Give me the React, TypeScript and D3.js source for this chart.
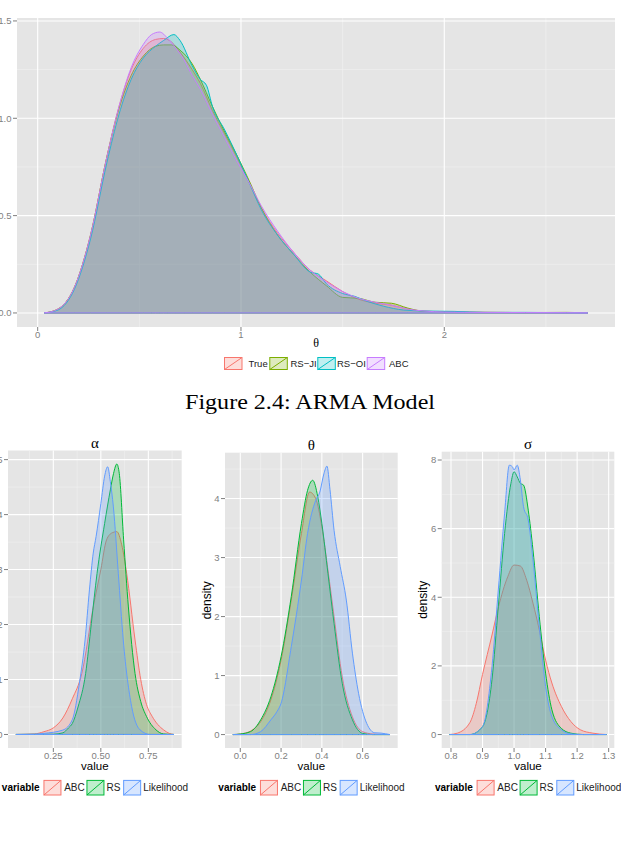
import * as d3 from 'd3';
import React from 'react';

type Pt = [number, number];

// ---- ARMA model, theta: four estimates of the posterior density
const topTrue: Pt[] = [
  [0.032, 0], [0.1, 0.02], [0.18, 0.13], [0.26, 0.40], [0.34, 0.80], [0.4, 1.06], [0.46, 1.25],
  [0.52, 1.36], [0.58, 1.405], [0.62, 1.41], [0.66, 1.39], [0.7, 1.34], [0.76, 1.25], [0.8, 1.18],
  [0.86, 1.04], [0.92, 0.92], [0.98, 0.80], [1.04, 0.67], [1.1, 0.54], [1.18, 0.41], [1.26, 0.31],
  [1.34, 0.22], [1.42, 0.165], [1.5, 0.11], [1.58, 0.07], [1.66, 0.05], [1.74, 0.04], [1.82, 0.02],
  [1.9, 0.01], [2.0, 0.006], [2.2, 0.003], [2.4, 0.002], [2.6, 0.001], [2.706, 0],
];
const topRsJi: Pt[] = [
  [0.032, 0], [0.1, 0.02], [0.18, 0.13], [0.26, 0.40], [0.34, 0.80], [0.4, 1.05], [0.46, 1.22],
  [0.52, 1.32], [0.58, 1.37], [0.62, 1.377], [0.66, 1.377], [0.7, 1.35], [0.76, 1.28], [0.8, 1.20],
  [0.86, 1.06], [0.92, 0.93], [0.98, 0.81], [1.04, 0.68], [1.1, 0.54], [1.18, 0.40], [1.26, 0.30],
  [1.34, 0.21], [1.42, 0.14], [1.5, 0.08], [1.58, 0.075], [1.66, 0.055], [1.74, 0.05], [1.82, 0.025],
  [1.9, 0.008], [2.0, 0.005], [2.2, 0.003], [2.4, 0.002], [2.6, 0.003], [2.706, 0],
];
const topRsOi: Pt[] = [
  [0.032, 0], [0.1, 0.015], [0.18, 0.12], [0.26, 0.38], [0.34, 0.77], [0.4, 1.02], [0.46, 1.20],
  [0.52, 1.31], [0.58, 1.37], [0.62, 1.40], [0.67, 1.43], [0.7, 1.40], [0.76, 1.27], [0.8, 1.20],
  [0.83, 1.17], [0.86, 1.06], [0.92, 0.94], [0.98, 0.81], [1.04, 0.67], [1.1, 0.53], [1.18, 0.40],
  [1.26, 0.30], [1.34, 0.21], [1.38, 0.20], [1.42, 0.15], [1.5, 0.10], [1.56, 0.085], [1.62, 0.06],
  [1.7, 0.035], [1.8, 0.015], [1.9, 0.01], [2.05, 0.008], [2.2, 0.003], [2.4, 0.003], [2.6, 0.001],
  [2.706, 0],
];
const topAbc: Pt[] = [
  [0.032, 0], [0.1, 0.02], [0.18, 0.13], [0.26, 0.40], [0.34, 0.80], [0.4, 1.06], [0.46, 1.26],
  [0.52, 1.38], [0.56, 1.43], [0.6, 1.443], [0.64, 1.41], [0.68, 1.36], [0.72, 1.30], [0.76, 1.22],
  [0.8, 1.15], [0.86, 1.02], [0.92, 0.90], [0.98, 0.78], [1.04, 0.67], [1.1, 0.55], [1.18, 0.42],
  [1.26, 0.31], [1.34, 0.22], [1.42, 0.16], [1.5, 0.11], [1.58, 0.075], [1.66, 0.055], [1.74, 0.04],
  [1.82, 0.02], [1.9, 0.01], [2.0, 0.005], [2.2, 0.003], [2.4, 0.002], [2.6, 0.001], [2.706, 0],
];
const topNames = ['True', 'RS\u2212JI', 'RS\u2212OI', 'ABC'];
const topColors = ['#F8766D', '#7CAE00', '#00BFC4', '#C77CFF'];
const topXTicks = [0, 1, 2];
const topYTicks = [0, 0.5, 1, 1.5];

// ---- GARCH-type model: alpha, theta, sigma
const alphaAbc: Pt[] = [
  [0.053, 0], [0.15, 0.01], [0.2, 0.05], [0.25, 0.12], [0.3, 0.3], [0.35, 0.65], [0.4, 1.11],
  [0.46, 2.32], [0.5, 3.0], [0.53, 3.54], [0.56, 3.67], [0.584, 3.69], [0.61, 3.45], [0.636, 2.93],
  [0.68, 1.72], [0.71, 1.0], [0.74, 0.55], [0.77, 0.33], [0.8, 0.18], [0.83, 0.085], [0.86, 0.02],
  [0.884, 0],
];
const alphaRs: Pt[] = [
  [0.053, 0], [0.25, 0.005], [0.3, 0.03], [0.33, 0.12], [0.35, 0.2], [0.38, 0.5], [0.42, 1.11],
  [0.45, 2.02], [0.48, 2.93], [0.52, 3.84], [0.55, 4.45], [0.567, 4.75], [0.584, 4.92], [0.597, 4.75],
  [0.62, 3.54], [0.645, 2.32], [0.68, 1.11], [0.71, 0.6], [0.74, 0.33], [0.79, 0.085], [0.83, 0.01],
  [0.884, 0],
];
const alphaLik: Pt[] = [
  [0.053, 0], [0.15, 0.005], [0.2, 0.02], [0.3, 0.08], [0.35, 0.27], [0.387, 0.93], [0.417, 1.72],
  [0.44, 2.63], [0.46, 3.3], [0.475, 3.6], [0.5, 4.2], [0.52, 4.7], [0.536, 4.87], [0.55, 4.6],
  [0.566, 4.14], [0.592, 2.93], [0.618, 1.72], [0.662, 0.51], [0.706, 0.085], [0.76, 0], [0.884, 0],
];
const thetaAbc: Pt[] = [
  [-0.0365, 0], [0, 0.01], [0.05, 0.06], [0.1, 0.22], [0.15, 0.59], [0.2, 1.26], [0.25, 2.28],
  [0.3, 3.41], [0.34, 4.11], [0.37, 4.0], [0.4, 3.52], [0.43, 2.79], [0.46, 2.0], [0.5, 0.98],
  [0.55, 0.3], [0.6, 0.05], [0.65, 0.01], [0.7335, 0],
];
const thetaRs: Pt[] = [
  [-0.0365, 0], [0, 0.01], [0.05, 0.05], [0.1, 0.25], [0.15, 0.64], [0.2, 1.32], [0.25, 2.34],
  [0.3, 3.58], [0.33, 4.14], [0.355, 4.31], [0.38, 4.03], [0.4, 3.58], [0.43, 2.73], [0.46, 1.88],
  [0.5, 0.87], [0.55, 0.25], [0.6, 0.02], [0.65, 0], [0.7335, 0],
];
const thetaLik: Pt[] = [
  [-0.0365, 0], [0.05, 0], [0.1, 0.05], [0.15, 0.25], [0.18, 0.39], [0.2, 0.53], [0.25, 1.49],
  [0.3, 2.62], [0.33, 3.41], [0.37, 3.97], [0.39, 4.11], [0.41, 4.42], [0.425, 4.55], [0.44, 4.15],
  [0.46, 3.46], [0.49, 2.85], [0.52, 2.28], [0.55, 1.38], [0.58, 0.7], [0.62, 0.19], [0.66, 0.03],
  [0.69, 0.025], [0.7335, 0],
];
const sigmaAbc: Pt[] = [
  [0.7954, 0], [0.82, 0.04], [0.86, 0.35], [0.88, 0.9], [0.9, 1.75], [0.93, 2.9], [0.95, 3.7],
  [0.98, 4.6], [1.0, 4.94], [1.02, 4.91], [1.04, 4.5], [1.06, 3.83], [1.08, 3.05], [1.1, 2.17],
  [1.12, 1.5], [1.15, 0.82], [1.18, 0.38], [1.21, 0.14], [1.25, 0.04], [1.293, 0],
];
const sigmaRs: Pt[] = [
  [0.7954, 0], [0.86, 0], [0.9, 0.23], [0.93, 1.6], [0.95, 3.73], [0.97, 5.86], [0.99, 7.32],
  [1.0, 7.66], [1.01, 7.51], [1.02, 7.32], [1.03, 7.27], [1.045, 6.54], [1.06, 5.38], [1.08, 3.44],
  [1.1, 1.79], [1.12, 0.72], [1.15, 0.18], [1.18, 0.04], [1.22, 0], [1.293, 0],
];
const sigmaLik: Pt[] = [
  [0.7954, 0], [0.86, 0], [0.9, 0.23], [0.93, 1.98], [0.95, 4.21], [0.97, 6.45], [0.985, 7.85],
  [0.995, 7.8], [1.0, 7.71], [1.01, 7.85], [1.02, 7.42], [1.03, 6.64], [1.045, 6.25], [1.06, 5.09],
  [1.08, 3.15], [1.1, 1.4], [1.12, 0.52], [1.15, 0.14], [1.18, 0.02], [1.22, 0], [1.293, 0],
];
const panelNames = ['ABC', 'RS', 'Likelihood'];
const panelColors = ['#F8766D', '#00BA38', '#619CFF'];
const alphaXTicks = [0.25, 0.5, 0.75];
const alphaYTicks = [0, 1, 2, 3, 4, 5];
const thetaXTicks = [0, 0.2, 0.4, 0.6];
const thetaYTicks = [0, 1, 2, 3, 4];
const sigmaXTicks = [0.8, 0.9, 1.0, 1.1, 1.2, 1.3];
const sigmaYTicks = [0, 2, 4, 6, 8];

const SANS = '"Liberation Sans", Arial, Helvetica, sans-serif';
const SERIF = '"Liberation Serif", "DejaVu Serif", serif';
const GREY = '#7f7f7f';

type Box = { x0: number; x1: number; y0: number; y1: number };

// minor grid sits half way between major breaks
const minors = (ticks: number[], lo: number, hi: number) => {
  const step = ticks[1] - ticks[0];
  return [ticks[0] - step / 2, ...ticks.map(t => t + step / 2)].filter(v => v > lo && v < hi);
};

function DensityPanel({ box, series, colors, xTicks, yTicks, xFormat, yFormat }: {
  box: Box; series: Pt[][]; colors: string[]; xTicks: number[]; yTicks: number[];
  xFormat: (v: number) => string; yFormat: (v: number) => string;
}) {
  const pts = series.flat();
  const [xLo, xHi] = d3.extent(pts, d => d[0]) as [number, number];
  const yHi = d3.max(pts, d => d[1]) as number;
  const xPad = (xHi - xLo) * 0.05;
  const yPad = yHi * 0.05;
  const x = d3.scaleLinear().domain([xLo - xPad, xHi + xPad]).range([box.x0, box.x1]);
  const y = d3.scaleLinear().domain([-yPad, yHi + yPad]).range([box.y1, box.y0]);
  const [dx0, dx1] = x.domain();
  const [dy0, dy1] = y.domain();

  const area = d3.area<Pt>()
    .x(d => x(d[0]))
    .y0(y(0))
    .y1(d => y(d[1]))
    .curve(d3.curveMonotoneX);

  return (
    <g>
      <rect x={box.x0} y={box.y0} width={box.x1 - box.x0} height={box.y1 - box.y0} fill="#e5e5e5" />
      {minors(xTicks, dx0, dx1).map(v => (
        <line key={'mx' + v} x1={x(v)} x2={x(v)} y1={box.y0} y2={box.y1} stroke="#f2f2f2" strokeWidth={0.6} />
      ))}
      {minors(yTicks, dy0, dy1).map(v => (
        <line key={'my' + v} x1={box.x0} x2={box.x1} y1={y(v)} y2={y(v)} stroke="#f2f2f2" strokeWidth={0.6} />
      ))}
      {xTicks.map(v => (
        <line key={'gx' + v} x1={x(v)} x2={x(v)} y1={box.y0} y2={box.y1} stroke="#fff" strokeWidth={1.1} />
      ))}
      {yTicks.map(v => (
        <line key={'gy' + v} x1={box.x0} x2={box.x1} y1={y(v)} y2={y(v)} stroke="#fff" strokeWidth={1.1} />
      ))}

      {series.map((s, i) => (
        <path key={'d' + i} d={area(s) as string} fill={colors[i]} fillOpacity={0.25}
          stroke={colors[i]} strokeWidth={1} strokeLinejoin="round" />
      ))}

      {xTicks.map(v => (
        <g key={'tx' + v}>
          <line x1={x(v)} x2={x(v)} y1={box.y1} y2={box.y1 + 4} stroke={GREY} />
          <text x={x(v)} y={box.y1 + 10.5} textAnchor="middle" fontFamily={SANS} fontSize={9.5} fill={GREY}>
            {xFormat(v)}
          </text>
        </g>
      ))}
      {yTicks.map(v => (
        <g key={'ty' + v}>
          <line x1={box.x0 - 4} x2={box.x0} y1={y(v)} y2={y(v)} stroke={GREY} />
          <text x={box.x0 - 5.5} y={y(v) + 3.4} textAnchor="end" fontFamily={SANS} fontSize={9.5} fill={GREY}>
            {yFormat(v)}
          </text>
        </g>
      ))}
    </g>
  );
}

function LegendKey({ x, y, w, h, color }: { x: number; y: number; w: number; h: number; color: string }) {
  return (
    <g>
      <rect x={x} y={y} width={w} height={h} fill="#fff" />
      <rect x={x + 0.5} y={y + 0.5} width={w - 1} height={h - 1} fill={color} fillOpacity={0.25}
        stroke={color} strokeWidth={1} />
      <line x1={x + 0.5} y1={y + h - 0.5} x2={x + w - 0.5} y2={y + 0.5} stroke={color} strokeWidth={1} />
    </g>
  );
}

// legend row under each of the three small plots
function VariableLegend({ cx, cy }: { cx: number; cy: number }) {
  const start = cx - 93;
  const keyX = [41.6, 84.6, 121.3];
  const labelX = [62.3, 104.6, 141.3];
  return (
    <g fontFamily={SANS} fontSize={10}>
      <text x={start} y={cy + 3.5} fontWeight="bold">variable</text>
      {panelNames.map((n, i) => (
        <g key={n}>
          <LegendKey x={start + keyX[i]} y={cy - 7.8} w={18} h={15.6} color={panelColors[i]} />
          <text x={start + labelX[i]} y={cy + 3.5} fill="#222">{n}</text>
        </g>
      ))}
    </g>
  );
}

function SmallPlot({ box, title, series, xTicks, yTicks, xFormat }: {
  box: Box; title: string; series: Pt[][]; xTicks: number[]; yTicks: number[];
  xFormat: (v: number) => string;
}) {
  const cx = (box.x0 + box.x1) / 2;
  const cy = (box.y0 + box.y1) / 2;
  return (
    <g>
      <text x={cx} y={box.y0 - 3} textAnchor="middle" fontFamily={SERIF} fontSize={15}>{title}</text>
      <DensityPanel box={box} series={series} colors={panelColors} xTicks={xTicks} yTicks={yTicks}
        xFormat={xFormat} yFormat={d3.format('d')} />
      <text x={cx} y={box.y1 + 22} textAnchor="middle" fontFamily={SANS} fontSize={11.5}>value</text>
      <text transform={`translate(${box.x0 - 18.5},${cy}) rotate(-90)`} dy="0.35em" textAnchor="middle"
        fontFamily={SANS} fontSize={12}>density</text>
      <VariableLegend cx={cx} cy={787.7} />
    </g>
  );
}

export default function App() {
  const topBox: Box = { x0: 17, x1: 615, y0: 18, y1: 327 };
  const topKeyX = [224, 269.3, 317.3, 366.7];
  const topLabelX = [248.5, 290.5, 337, 389];

  return (
    <div style={{ position: 'absolute', left: 0, top: 0, background: '#fff' }}>
      <svg width={621} height={849} style={{ display: 'block' }}>
        <rect width={621} height={849} fill="#fff" />

        <DensityPanel box={topBox} series={[topTrue, topRsJi, topRsOi, topAbc]} colors={topColors}
          xTicks={topXTicks} yTicks={topYTicks} xFormat={d3.format('d')} yFormat={d3.format('.1f')} />
        <text x={(topBox.x0 + topBox.x1) / 2} y={347} textAnchor="middle" fontFamily={SERIF} fontSize={12}>θ</text>

        {/* labels first so the next key overlaps a long label, as ggplot does */}
        <g fontFamily={SANS} fontSize={9.5}>
          {topNames.map((n, i) => (
            <text key={n} x={topLabelX[i]} y={367} fill="#222">{n}</text>
          ))}
          {topNames.map((n, i) => (
            <LegendKey key={'k' + n} x={topKeyX[i]} y={357} w={18.5} h={13} color={topColors[i]} />
          ))}
        </g>

        <text x={310} y={409} textAnchor="middle" fontFamily={SERIF} fontSize={20}
          textLength={250} lengthAdjust="spacingAndGlyphs">Figure 2.4: ARMA Model</text>

        <SmallPlot box={{ x0: 8, x1: 181.7, y0: 450.5, y1: 748 }} title="α"
          series={[alphaAbc, alphaRs, alphaLik]} xTicks={alphaXTicks} yTicks={alphaYTicks}
          xFormat={d3.format('.2f')} />
        <SmallPlot box={{ x0: 225, x1: 397.7, y0: 452.7, y1: 748 }} title="θ"
          series={[thetaAbc, thetaRs, thetaLik]} xTicks={thetaXTicks} yTicks={thetaYTicks}
          xFormat={d3.format('.1f')} />
        <SmallPlot box={{ x0: 441.7, x1: 614.3, y0: 451.7, y1: 748 }} title="σ"
          series={[sigmaAbc, sigmaRs, sigmaLik]} xTicks={sigmaXTicks} yTicks={sigmaYTicks}
          xFormat={d3.format('.1f')} />
      </svg>
    </div>
  );
}
